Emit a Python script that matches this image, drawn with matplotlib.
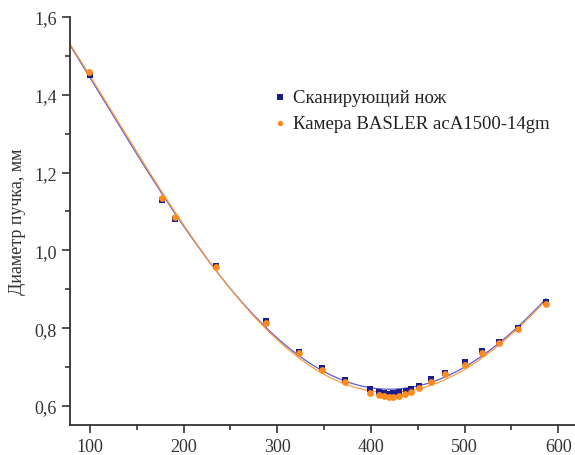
import numpy as np
import matplotlib
matplotlib.use("Agg")
import matplotlib.pyplot as plt
from matplotlib.ticker import MultipleLocator

plt.rcParams['font.family'] = ['Liberation Serif', 'DejaVu Serif']

# Scanning knife (blue squares)
knife_x = [100, 177, 191, 235, 288, 323, 348, 372, 399, 409, 414, 419.5, 424, 430, 437,
           442.6, 451.5, 464, 479.6, 500, 519, 537, 557, 586.5]
knife_y = [1.451, 1.130, 1.081, 0.960, 0.818, 0.739, 0.698, 0.667, 0.644, 0.637, 0.633,
           0.631, 0.632, 0.635, 0.638, 0.644, 0.652, 0.669, 0.685, 0.714, 0.741, 0.764,
           0.800, 0.867]

# Basler camera (orange circles)
cam_x = [99, 177, 191, 235, 288, 323, 348, 372, 399, 409, 414, 419.5, 424, 430, 436.5,
         442.6, 451.5, 464, 479.6, 500, 519, 537, 557, 586.5]
cam_y = [1.459, 1.135, 1.086, 0.957, 0.813, 0.736, 0.693, 0.662, 0.633, 0.628, 0.626,
         0.622, 0.623, 0.626, 0.631, 0.636, 0.645, 0.661, 0.681, 0.705, 0.735, 0.762,
         0.797, 0.862]

xlim = (78.6, 618)
ylim = (0.551, 1.6)

fig = plt.figure(figsize=(5.75, 4.56), dpi=100)
ax = fig.add_axes([0.1217, 0.0658, 0.8783, 0.8947])

blue_m = '#1c1c8c'
blue_l = '#5c5cd0'
orange = '#ff8a1e'
orange_l = '#ff9a40'

zz = np.linspace(xlim[0], 587, 400)
for xs, ys, lc in [(knife_x, knife_y, blue_l), (cam_x, cam_y, orange_l)]:
    xa = (np.array(xs) - 350.0) / 250.0
    p = np.polyfit(xa, np.array(ys), 4)
    ax.plot(zz, np.polyval(p, (zz - 350.0) / 250.0), color=lc, lw=0.9, zorder=2)

ax.scatter(knife_x, knife_y, marker='s', s=22, color=blue_m, zorder=3,
           label='Сканирующий нож', linewidths=0)
ax.scatter(cam_x, cam_y, marker='o', s=24, color=orange, zorder=4,
           label='Камера BASLER acA1500-14gm', linewidths=0)

ax.set_xlim(*xlim)
ax.set_ylim(*ylim)
ax.xaxis.set_major_locator(MultipleLocator(100))
ax.xaxis.set_minor_locator(MultipleLocator(50))
ax.yaxis.set_major_locator(MultipleLocator(0.2))
ax.yaxis.set_minor_locator(MultipleLocator(0.1))
ax.yaxis.set_major_formatter(plt.FuncFormatter(lambda v, _: f"{v:.1f}".replace('.', ',')))
ax.set_yticks([0.6, 0.8, 1.0, 1.2, 1.4, 1.6])

for s in ['top', 'right']:
    ax.spines[s].set_visible(False)
for s in ['left', 'bottom']:
    ax.spines[s].set_linewidth(1.3)
    ax.spines[s].set_color('#333333')

ax.tick_params(which='major', direction='out', length=6, width=1.2, labelsize=13,
               colors='#333333', labelcolor='#333333')
ax.tick_params(which='minor', direction='out', length=3.5, width=1.2, colors='#333333')

ax.set_ylabel('Диаметр пучка, мм', fontsize=13, color='#333333', labelpad=6)

leg = ax.legend(loc='upper left', bbox_to_anchor=(0.36, 0.865), frameon=False,
                fontsize=13.5, handletextpad=0.1, markerscale=0.8, labelspacing=0.45,
                handlelength=1.2)
for t in leg.get_texts():
    t.set_color('#222222')

fig.savefig('out.png', dpi=100)
